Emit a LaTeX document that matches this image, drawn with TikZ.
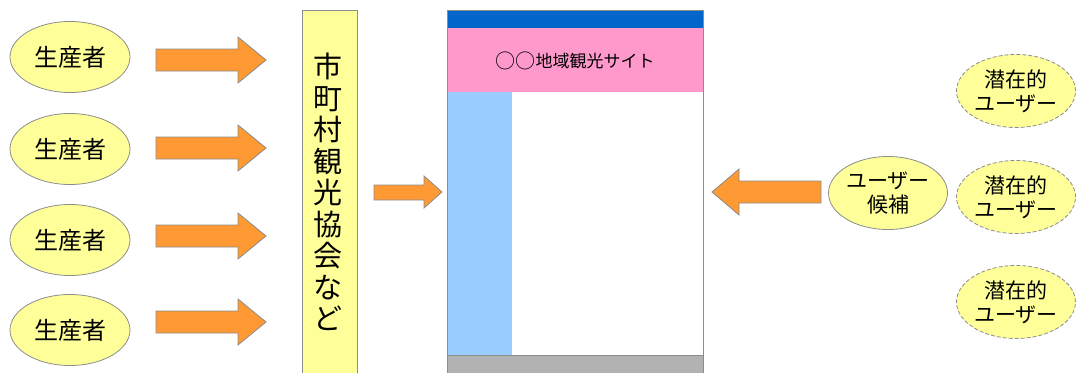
\documentclass[tikz,border=0pt]{standalone}
\usepackage{fontspec}
\setmainfont{Noto Sans CJK JP}
\usetikzlibrary{shapes.geometric}
\definecolor{ylw}{HTML}{FFFF99}
\definecolor{org}{HTML}{FF9933}
\definecolor{edge}{HTML}{8C8C8C}
\definecolor{topblue}{HTML}{0066CC}
\definecolor{pinkband}{HTML}{FF99CC}
\definecolor{sideblue}{HTML}{99CCFF}
\definecolor{footgray}{HTML}{B2B2B2}
\tikzset{
  prod/.style={ellipse, draw=edge, fill=ylw, line width=0.8pt, minimum width=120pt, minimum height=71pt, inner sep=0pt, font=\fontsize{24}{26}\selectfont},
  user/.style={ellipse, draw=edge, fill=ylw, line width=0.8pt, minimum width=119pt, minimum height=73pt, inner sep=0pt, align=center, font=\fontsize{21}{24}\selectfont},
  potential/.style={user, dashed, dash pattern=on 4pt off 2pt},
  blk/.style={draw=edge, fill=org, line width=0.8pt, line join=miter},
}
\begin{document}
\begin{tikzpicture}[x=1pt, y=-1pt]
\useasboundingbox (0,0) rectangle (1078,372);
% producers
\foreach \i/\y in {1/57,2/149,3/240,4/330}{
  \node[prod] (p\i) at (70,\y) {生産者};
}
% arrows from producers
\foreach \y in {60,148,236,322}{
  \draw[blk] (156,\y-11) -- (238,\y-11) -- (238,\y-23) -- (266,\y) -- (238,\y+23) -- (238,\y+11) -- (156,\y+11) -- cycle;
}
% tourism association box
\draw[draw=edge, fill=ylw, line width=0.8pt] (302,373) -- (302,10) -- (357,10) -- (357,373);
\node[align=center, font=\fontsize{29}{31.5}\selectfont, inner sep=0pt] (assoc) at (328,192) {市\\町\\村\\観\\光\\協\\会\\な\\ど};
% middle arrow
\draw[blk] (374,185) -- (424,185) -- (424,176) -- (442,192) -- (424,208) -- (424,200) -- (374,200) -- cycle;
% website frame
\fill[white] (447,10) rectangle (703,373);
\fill[topblue] (447,10) rectangle (703,28);
\fill[pinkband] (447,28) rectangle (703,92);
\fill[sideblue] (447,92) rectangle (512,355);
\fill[footgray] (447,355) rectangle (703,373);
\draw[edge, line width=0.8pt] (447,355) -- (703,355);
\draw[edge, line width=1pt] (447,373) -- (447,10) -- (703,10) -- (703,373);
\node[font=\fontsize{17}{18}\selectfont, inner sep=0pt] (site) at (575,61) {\raisebox{-0.08em}{\fontsize{20}{20}\selectfont ○○}地域観光サイト};
% user candidate
\node[user] (cand) at (888,193) {ユーザー\\候補};
\draw[blk] (821,181) -- (739,181) -- (739,169) -- (712,192) -- (739,215) -- (739,203) -- (821,203) -- cycle;
% potential users
\foreach \i/\y in {1/91,2/197,3/302}{
  \node[potential] (u\i) at (1016,\y) {潜在的\\ユーザー};
}
\end{tikzpicture}
\end{document}
